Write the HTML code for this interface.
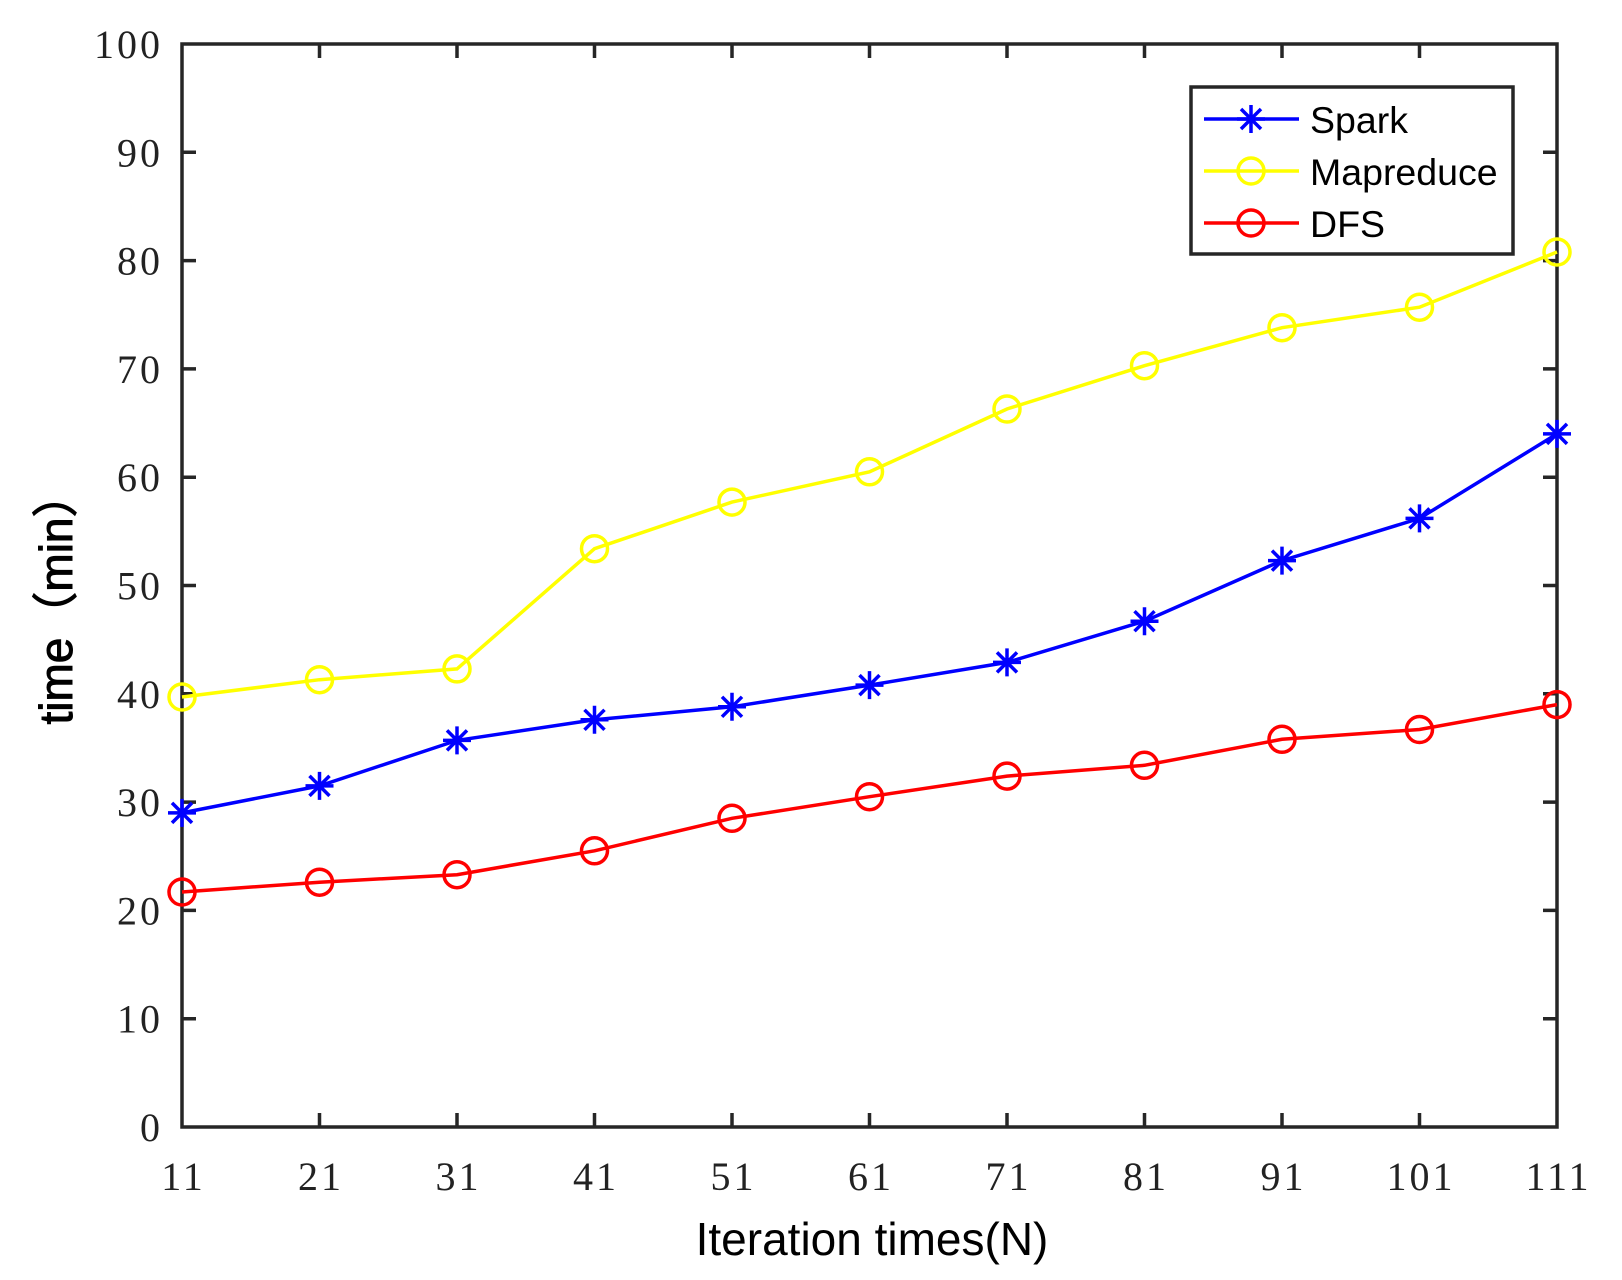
<!DOCTYPE html>
<html><head><style>body{margin:0;background:#fff}svg{display:block}</style></head><body>
<svg width="1622" height="1280" xmlns="http://www.w3.org/2000/svg">
<g font-family="Liberation Serif, serif" font-size="40" fill="#222" text-anchor="end" letter-spacing="3">
<text x="163" y="1141">0</text>
<text x="163" y="1032.7">10</text>
<text x="163" y="924.4">20</text>
<text x="163" y="816.1">30</text>
<text x="163" y="707.8">40</text>
<text x="163" y="599.5">50</text>
<text x="163" y="491.2">60</text>
<text x="163" y="382.9">70</text>
<text x="163" y="274.6">80</text>
<text x="163" y="166.3">90</text>
<text x="163" y="58">100</text>
</g>
<g font-family="Liberation Serif, serif" font-size="40" fill="#222" text-anchor="middle" letter-spacing="3">
<text x="183.5" y="1190">11</text>
<text x="321" y="1190">21</text>
<text x="458.5" y="1190">31</text>
<text x="596" y="1190">41</text>
<text x="733.5" y="1190">51</text>
<text x="871" y="1190">61</text>
<text x="1008.5" y="1190">71</text>
<text x="1146" y="1190">81</text>
<text x="1283.5" y="1190">91</text>
<text x="1421" y="1190">101</text>
<text x="1558.5" y="1190">111</text>
</g>
<rect x="182" y="44" width="1375" height="1083" fill="none" stroke="#262626" stroke-width="3.5"/>
<path stroke="#262626" stroke-width="3.5" fill="none" d="
M182,1018.7h14M182,910.4h14M182,802.1h14M182,693.8h14M182,585.5h14M182,477.2h14M182,368.9h14M182,260.6h14M182,152.3h14
M1557,1018.7h-14M1557,910.4h-14M1557,802.1h-14M1557,693.8h-14M1557,585.5h-14M1557,477.2h-14M1557,368.9h-14M1557,260.6h-14M1557,152.3h-14
M319.5,1127v-14M457,1127v-14M594.5,1127v-14M732,1127v-14M869.5,1127v-14M1007,1127v-14M1144.5,1127v-14M1282,1127v-14M1419.5,1127v-14
M319.5,44v14M457,44v14M594.5,44v14M732,44v14M869.5,44v14M1007,44v14M1144.5,44v14M1282,44v14M1419.5,44v14"/>
<g fill="none" stroke-width="3.5">
<polyline stroke="#ffff00" points="182,697 319.5,679.7 457,668.9 594.5,548.7 732,502.1 869.5,471.8 1007,409 1144.5,365.7 1282,327.7 1419.5,307.2 1557,252"/>
<polyline stroke="#0000ff" points="182,812.9 319.5,785.9 457,740.4 594.5,719.8 732,706.8 869.5,685.1 1007,662.4 1144.5,621.2 1282,560.6 1419.5,518.4 1557,433.9"/>
<polyline stroke="#ff0000" points="182,892 319.5,882.2 457,874.7 594.5,850.8 732,818.3 869.5,796.7 1007,776.1 1144.5,765.3 1282,739.3 1419.5,729.5 1557,704.6"/>
<g stroke="#ffff00">
<circle cx="182" cy="697" r="13"/><circle cx="319.5" cy="679.7" r="13"/><circle cx="457" cy="668.9" r="13"/><circle cx="594.5" cy="548.7" r="13"/><circle cx="732" cy="502.1" r="13"/><circle cx="869.5" cy="471.8" r="13"/><circle cx="1007" cy="409" r="13"/><circle cx="1144.5" cy="365.7" r="13"/><circle cx="1282" cy="327.7" r="13"/><circle cx="1419.5" cy="307.2" r="13"/><circle cx="1557" cy="252" r="13"/>
</g>
<g stroke="#ff0000">
<circle cx="182" cy="892" r="13"/><circle cx="319.5" cy="882.2" r="13"/><circle cx="457" cy="874.7" r="13"/><circle cx="594.5" cy="850.8" r="13"/><circle cx="732" cy="818.3" r="13"/><circle cx="869.5" cy="796.7" r="13"/><circle cx="1007" cy="776.1" r="13"/><circle cx="1144.5" cy="765.3" r="13"/><circle cx="1282" cy="739.3" r="13"/><circle cx="1419.5" cy="729.5" r="13"/><circle cx="1557" cy="704.6" r="13"/>
</g>
<g stroke="#0000ff">
<path transform="translate(182,812.9)" d="M0,-14V14M-14,0H14M-10,-10L10,10M-10,10L10,-10"/>
<path transform="translate(319.5,785.9)" d="M0,-14V14M-14,0H14M-10,-10L10,10M-10,10L10,-10"/>
<path transform="translate(457,740.4)" d="M0,-14V14M-14,0H14M-10,-10L10,10M-10,10L10,-10"/>
<path transform="translate(594.5,719.8)" d="M0,-14V14M-14,0H14M-10,-10L10,10M-10,10L10,-10"/>
<path transform="translate(732,706.8)" d="M0,-14V14M-14,0H14M-10,-10L10,10M-10,10L10,-10"/>
<path transform="translate(869.5,685.1)" d="M0,-14V14M-14,0H14M-10,-10L10,10M-10,10L10,-10"/>
<path transform="translate(1007,662.4)" d="M0,-14V14M-14,0H14M-10,-10L10,10M-10,10L10,-10"/>
<path transform="translate(1144.5,621.2)" d="M0,-14V14M-14,0H14M-10,-10L10,10M-10,10L10,-10"/>
<path transform="translate(1282,560.6)" d="M0,-14V14M-14,0H14M-10,-10L10,10M-10,10L10,-10"/>
<path transform="translate(1419.5,518.4)" d="M0,-14V14M-14,0H14M-10,-10L10,10M-10,10L10,-10"/>
<path transform="translate(1557,433.9)" d="M0,-14V14M-14,0H14M-10,-10L10,10M-10,10L10,-10"/>
</g>
</g>
<text x="872" y="1255" font-family="Liberation Sans, sans-serif" font-size="46" text-anchor="middle" fill="#000">Iteration times(N)</text>
<text transform="translate(72,598) rotate(-90)" font-family="Liberation Sans, 'Noto Sans CJK SC', sans-serif" font-size="46" text-anchor="middle" fill="#000" stroke="#000" stroke-width="1">time（min）</text>
<rect x="1191" y="87" width="322" height="167" fill="#fff" stroke="#262626" stroke-width="3.5"/>
<g font-family="Liberation Sans, sans-serif" font-size="37.5" fill="#000">
<line x1="1204" y1="119" x2="1299" y2="119" stroke="#0000ff" stroke-width="3.5"/>
<path transform="translate(1251,119)" d="M0,-14V14M-14,0H14M-10,-10L10,10M-10,10L10,-10" stroke="#0000ff" stroke-width="3.5"/>
<text x="1310" y="133">Spark</text>
<line x1="1204" y1="171" x2="1299" y2="171" stroke="#ffff00" stroke-width="3.5"/><circle cx="1251" cy="171" r="13" fill="none" stroke="#ffff00" stroke-width="3.5"/>
<text x="1310" y="185">Mapreduce</text>
<line x1="1204" y1="223" x2="1299" y2="223" stroke="#ff0000" stroke-width="3.5"/><circle cx="1251" cy="223" r="13" fill="none" stroke="#ff0000" stroke-width="3.5"/>
<text x="1310" y="237">DFS</text>
</g>
</svg>
</body></html>
